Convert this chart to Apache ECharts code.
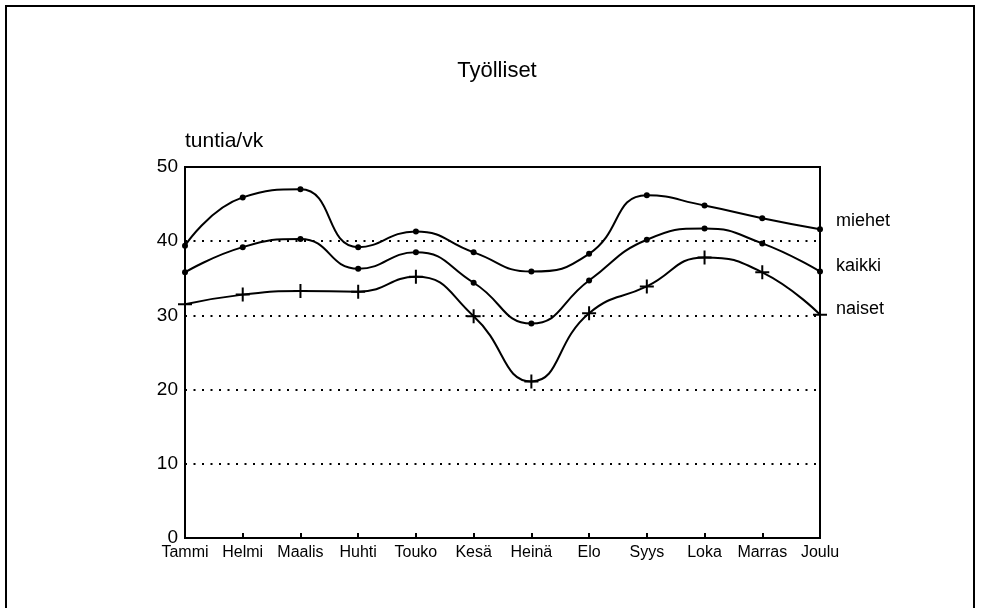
<!DOCTYPE html>
<html>
<head>
    <meta charset="utf-8">
    <script src="https://cdn.jsdelivr.net/npm/echarts@6/dist/echarts.min.js"></script>
    <style>
        html, body { margin: 0; padding: 0; background: #fff; }
        #main { width: 981px; height: 608px; }
    </style>
</head>
<body>
    <div id="main"></div>
    <script>
        // kuukaudet
        var months = ['Tammi', 'Helmi', 'Maalis', 'Huhti', 'Touko', 'Kesä', 'Heinä', 'Elo', 'Syys', 'Loka', 'Marras', 'Joulu'];
        // tuntia/vk
        var miehet = [39.4, 45.9, 47.0, 39.2, 41.3, 38.5, 35.9, 38.3, 46.2, 44.8, 43.1, 41.6];
        var kaikki = [35.8, 39.2, 40.3, 36.3, 38.5, 34.4, 28.9, 34.7, 40.2, 41.7, 39.7, 35.9];
        var naiset = [31.5, 32.8, 33.3, 33.2, 35.2, 29.9, 21.1, 30.3, 33.9, 37.8, 35.8, 30.1];

        var font = '"Liberation Sans", Arial, sans-serif';
        var plus = 'path://M6,0H8V6H14V8H8V14H6V8H0V6H6Z';

        function line(name, data, symbol, size, dy) {
            return {
                name: name,
                type: 'line',
                data: data,
                smooth: 0.5,
                symbol: symbol,
                symbolSize: size,
                showAllSymbol: true,
                lineStyle: { color: '#000', width: 2 },
                itemStyle: { color: '#000' },
                endLabel: {
                    show: true,
                    formatter: name,
                    distance: 16,
                    offset: [0, dy],
                    color: '#000',
                    fontFamily: font,
                    fontSize: 18
                },
                animation: false
            };
        }

        var myChart = echarts.init(document.getElementById('main'));
        myChart.setOption({
            backgroundColor: '#fff',
            animation: false,
            title: {
                text: 'Työlliset',
                left: 492,
                top: 55,
                textAlign: 'center',
                textStyle: { fontFamily: font, fontSize: 22, fontWeight: 'normal', color: '#000' }
            },
            graphic: [{
                type: 'rect',
                shape: { x: 6, y: 6, width: 968, height: 640 },
                style: { fill: 'none', stroke: '#000', lineWidth: 2 }
            }],
            grid: {
                left: 185, right: 161, top: 167, bottom: 70,
                show: true, borderColor: '#000', borderWidth: 2
            },
            xAxis: {
                type: 'category',
                data: months,
                boundaryGap: false,
                axisLine: { lineStyle: { color: '#000', width: 2 } },
                axisTick: { inside: true, length: 5, interval: 0, lineStyle: { color: '#000', width: 2 } },
                axisLabel: { color: '#000', fontFamily: font, fontSize: 16, margin: 7, interval: 0, hideOverlap: false },
                splitLine: { show: false }
            },
            yAxis: {
                type: 'value',
                min: 0, max: 50, interval: 10,
                name: 'tuntia/vk',
                nameLocation: 'end',
                nameGap: 26,
                nameTextStyle: { color: '#000', fontFamily: font, fontSize: 21, align: 'left', verticalAlign: 'middle' },
                axisLine: { show: true, lineStyle: { color: '#000', width: 2 } },
                axisTick: { show: false },
                axisLabel: { color: '#000', fontFamily: font, fontSize: 19, margin: 7 },
                splitLine: { lineStyle: { color: '#000', width: 2, type: [2, 6.5] } }
            },
            series: [
                line('miehet', miehet, 'circle', 6, -8),
                line('kaikki', kaikki, 'circle', 6, -6),
                line('naiset', naiset, plus, 14, -6)
            ]
        });
    </script>
</body>
</html>
